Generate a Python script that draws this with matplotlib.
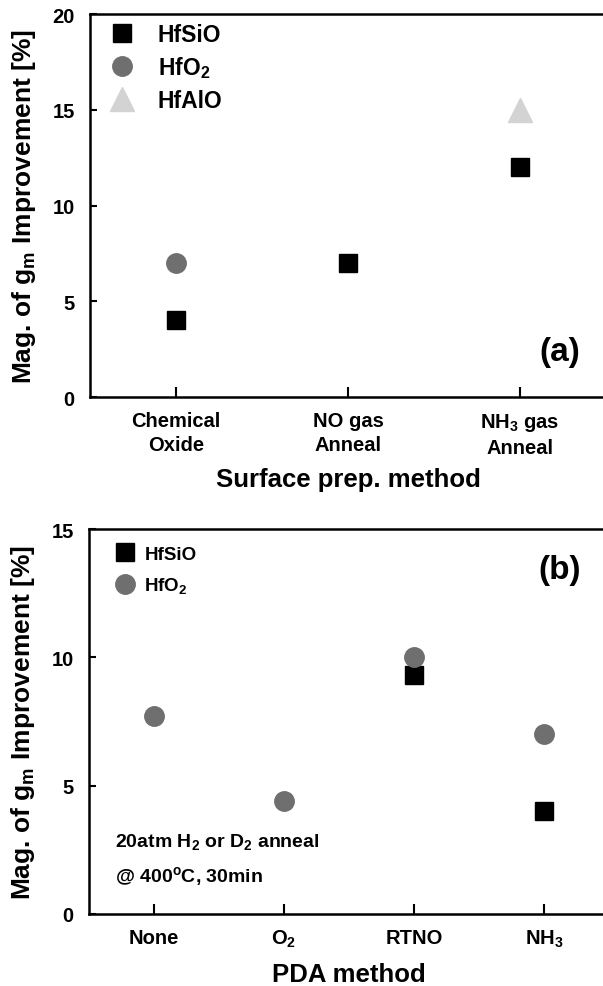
import matplotlib
matplotlib.use("Agg")
import matplotlib.pyplot as plt

# ---- data -------------------------------------------------------------
surf_methods = ["Chemical\nOxide", "NO gas\nAnneal", r"NH$_3$ gas" "\nAnneal"]
surf_hfsio = [4, 7, 12]          # at positions 1, 2, 3
surf_hfo2_pos = [1]
surf_hfo2 = [7]
surf_hfalo_pos = [3]
surf_hfalo = [15]

pda_methods = ["None", r"O$_2$", "RTNO", r"NH$_3$"]
pda_hfsio_pos = [3, 4]
pda_hfsio = [9.3, 4.0]
pda_hfo2 = [7.7, 4.4, 10.0, 7.0]  # at positions 1..4

ylabel = r"Mag. of g$_m$ Improvement [%]"

# ---- style ------------------------------------------------------------
plt.rcParams.update({
    "font.family": ["Liberation Sans", "DejaVu Sans"],
    "font.weight": "bold",
    "mathtext.fontset": "custom",
    "mathtext.rm": "Liberation Sans:bold",
    "mathtext.it": "Liberation Sans:bold",
    "mathtext.bf": "Liberation Sans:bold",
    "mathtext.default": "rm",
    "axes.linewidth": 1.8,
})

W, H = 603, 987
fig = plt.figure(figsize=(W / 100, H / 100), dpi=100)


def px_axes(left, top, right, bottom):
    return fig.add_axes([left / W, 1 - bottom / H, (right - left) / W, (bottom - top) / H])


def style(ax):
    ax.tick_params(direction="in", length=5, width=1.5, labelsize=14.5, top=False, right=False)
    ax.tick_params(axis="x", length=7, pad=10)
    ax.tick_params(axis="y", pad=11)
    for lab in ax.get_xticklabels() + ax.get_yticklabels():
        lab.set_fontweight("bold")


SQ = dict(marker="s", color="black", markersize=13, linestyle="none")
CI = dict(marker="o", color="#6f6f6f", markersize=14, linestyle="none")
TR = dict(marker="^", color="#d3d3d3", markersize=17, linestyle="none")

# ---- panel (a) --------------------------------------------------------
ax1 = px_axes(90, 15, 606, 398)
ax1.plot([1, 2, 3], surf_hfsio, label="HfSiO", **SQ)
ax1.plot(surf_hfo2_pos, surf_hfo2, label=r"HfO$_2$", **CI)
ax1.plot(surf_hfalo_pos, surf_hfalo, label="HfAlO", **TR)
ax1.set_xlim(0.5, 3.5)
ax1.set_ylim(0, 20)
ax1.set_yticks([0, 5, 10, 15, 20])
ax1.set_xticks([1, 2, 3])
ax1.set_xticklabels(surf_methods, linespacing=1.35, va="top")
style(ax1)
ax1.set_xlabel("Surface prep. method", fontsize=18.5, fontweight="bold", labelpad=7)
ax1.set_ylabel(ylabel, fontsize=19, fontweight="bold", labelpad=10)
ax1.legend(loc="upper left", frameon=False, handletextpad=0.55,
           labelspacing=0.36, borderaxespad=0.0, numpoints=1,
           prop={"size": 16.5, "weight": "bold"})
ax1.text(0.91, 0.12, "(a)", transform=ax1.transAxes, fontsize=24,
         fontweight="bold", ha="center", va="center")

# ---- panel (b) --------------------------------------------------------
ax2 = px_axes(89, 530, 609, 915)
ax2.plot(pda_hfsio_pos, pda_hfsio, label="HfSiO", **SQ)
ax2.plot([1, 2, 3, 4], pda_hfo2, label=r"HfO$_2$", **CI)
ax2.set_xlim(0.5, 4.5)
ax2.set_ylim(0, 15)
ax2.set_yticks([0, 5, 10, 15])
ax2.set_xticks([1, 2, 3, 4])
ax2.set_xticklabels(pda_methods)
style(ax2)
ax2.set_xlabel("PDA method", fontsize=18.5, fontweight="bold", labelpad=9)
ax2.set_ylabel(ylabel, fontsize=19, fontweight="bold", labelpad=10)
ax2.legend(loc="upper left", frameon=False, handletextpad=0.05,
           labelspacing=0.65, borderaxespad=0.5, numpoints=1,
           prop={"size": 13.5, "weight": "bold"})
ax2.text(0.905, 0.895, "(b)", transform=ax2.transAxes, fontsize=24,
         fontweight="bold", ha="center", va="center")
ax2.text(0.05, 0.19, r"20atm H$_2$ or D$_2$ anneal", transform=ax2.transAxes,
         fontsize=14, fontweight="bold", ha="left", va="center")
ax2.text(0.05, 0.10, r"@ 400$^\mathrm{o}$C, 30min", transform=ax2.transAxes,
         fontsize=14, fontweight="bold", ha="left", va="center")

fig.savefig("out.png", dpi=100)
